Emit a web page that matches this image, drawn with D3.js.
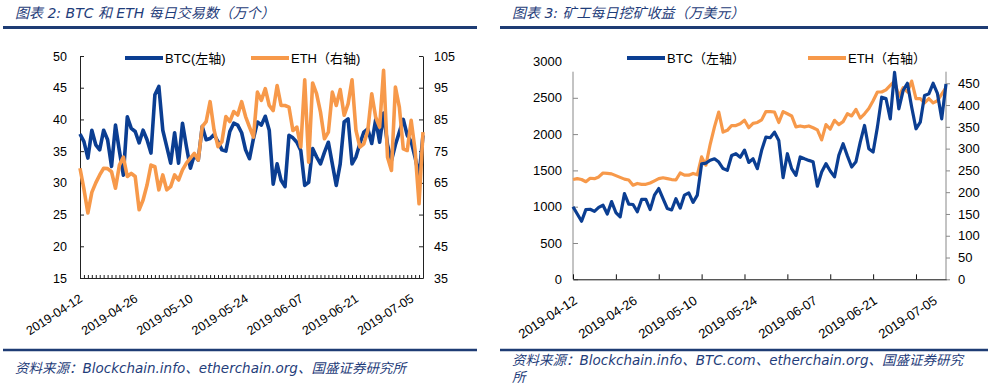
<!DOCTYPE html>
<html>
<head>
<meta charset="utf-8">
<script src="https://cdn.jsdelivr.net/npm/d3@7"></script>
<style>
body { margin: 0; background: #fff; }
text { font-family: "Liberation Sans", "Noto Sans CJK SC", sans-serif; fill: #000; }
.hd { font-family: "DejaVu Sans", "Noto Sans CJK SC", sans-serif; font-style: italic; fill: #1f3d7a; }
</style>
</head>
<body>
<div id="chart"></div>
<script>
// 88 daily categories, 2019-04-12 .. 2019-07-08
const dates = d3.timeDay.range(new Date(2019, 3, 12), new Date(2019, 6, 9));
const fmt = d3.timeFormat("%Y-%m-%d");

// chart 2 data: daily transactions (10k)
const btcTx = [37.7,36.5,33.9,38.3,36,35.2,38.3,36.8,32.6,39.1, 35,31.2,40.4,38.6,38.1,36.3,38.3,36.8,34.7,43.9,
  45.2,38.3,35.7,33.1,37.9,33.1,39.4,35.7,32.3,34.4, 33.6,38.9,36.8,37.0,37.6,36.5,35.2,35.0,38.1,39.4,
  39.1,37.9,35.2,33.8, 37,39.6,39.1,40.5,38.3,29.8, 33,30.4,29.4,37.5,37.1,36.4,35.1,29.6,30.1,35.4,
  34.1,33.0,34.8,36.4,33,29.6,33,39.6,40.1,33, 34.1,36.2,38,38.5,36.2,40,36.4,41,36,33.5,
  36,38,40,37.5,36.5,34,31,37.5];
const ethTx = [69.6,63,55.5,62,65,67.5,69.6,69.5,68.5,63.3, 70.6,73.1,67,68,67,56.5,59.6,64.3,70.6,70.1,
  62.8,67.5,62.8,63.8,67.5,65.9,69.1,71.2,72.8,74.3, 72.2,82.7,84.3,90.6,81.7,76.4,78,85.9,84.3,87.5,
  86.4,90.6,85.9,82.6, 79.4,93.6,91,94.7,89.4,87.8, 95.7,89.4,89.4,88.9,81.5,82.6,76.3,97.5,71.5,96.5,
  93.1,87.3,78.9,81,93.6,89.4,94.4,86.3,89.9,97.5, 81.5,76.3,77.3,81.5,93.1,85.7,82.6,100.5,73.1,68.9,
  95.2,88.9,75.7,75.2,84.7,75.2,58.4,81];

// chart 3 data: daily mining revenue (10k USD)
const btcRev = [1000,900,800,960,965,935,990,1020,900,1070, 920,860,1180,1035,1030,930,1100,1100,960,1160,
  1250,1110,975,955,1110,980,1160,1190,1060,1160, 1590,1600,1640,1660,1615,1525,1500,1705,1730,1680,
  1780,1610, 1660,1524,1776,1959,1950,2027,1913,1400, 1730,1524,1432,1685,1660,1638,1620,1282,1478,1593,
  1492,1410,1707,1867,1700,1547,1620,1890,2119,1799, 1753,2096,2508,2490,2210,2851,2348,2600,2700,2370,
  2073,2165,2531,2554,2700,2560,2210,2691];
const ethRev = [229,231,229,224,232,231,235,244,243,242, 238,234,230,228,216,220,218,218,221,226,
  231,233,231,229,228,244,239,239,243,240, 281,262,310,350,384,338,342,353,353,357,
  365,348, 358,360,366,385,385,384,360,385, 380,375,350,352,350,352,348,343,320,355,
  345,365,355,362,380,375,390,370,380,392, 410,430,430,435,445,455,420,440,430,455,
  415,415,405,415,405,410,425,440];

const txTicksL = d3.range(15, 51, 5);
const txTicksR = d3.range(35, 106, 10);
const revTicksL = d3.range(0, 3001, 500);
const revTicksR = d3.range(0, 451, 50);

const BLUE = "#0b3e92", ORANGE = "#f7994a", NAVY = "#1e3c74";

const svg = d3.select("#chart").append("svg")
    .attr("width", 995)
    .attr("height", 389);

function header(x0, x1, title, source) {
    svg.append("text").attr("class", "hd")
        .attr("x", x0 + 12).attr("y", 18)
        .style("font-size", "14px")
        .text(title);
    svg.append("line")
        .attr("x1", x0).attr("x2", x1).attr("y1", 27.5).attr("y2", 27.5)
        .style("stroke", NAVY).style("stroke-width", 3);
    svg.append("line")
        .attr("x1", x0).attr("x2", x1).attr("y1", 350).attr("y2", 350)
        .style("stroke", NAVY).style("stroke-width", 2.5);
    source.forEach((s, i) => {
        svg.append("text").attr("class", "hd")
            .attr("x", x0 + 12).attr("y", source.length > 1 ? 365 + i * 17 : 373)
            .style("font-size", "13.5px")
            .text(s);
    });
}

function legendItem(x, y, color, label) {
    svg.append("line")
        .attr("x1", x).attr("x2", x + 38).attr("y1", y).attr("y2", y)
        .style("stroke", color).style("stroke-width", 4);
    svg.append("text")
        .attr("x", x + 40).attr("y", y).attr("dy", "0.35em")
        .style("font-size", "13px")
        .text(label);
}

function xLabels(x, y0, dx, size) {
    svg.append("g").selectAll("text")
        .data(dates.filter((d, i) => i % 14 === 0))
        .enter().append("text")
        .attr("transform", d => "translate(" + (x(d) + dx) + "," + y0 + ") rotate(-33)")
        .attr("text-anchor", "end")
        .attr("dy", "0.35em")
        .style("font-size", size)
        .text(d => fmt(d));
}

// ---------- chart 2: transactions ----------
header(3, 477, "图表 2: BTC 和 ETH 每日交易数（万个）",
    ["资料来源：Blockchain.info、etherchain.org、国盛证券研究所"]);

let x1 = d3.scalePoint().domain(dates).range([80, 423]);
let y1L = d3.scaleLinear().domain([15, 50]).range([278, 56]);
let y1R = d3.scaleLinear().domain([35, 105]).range([278, 56]);

svg.append("g").attr("transform", "translate(80,0)")
    .call(d3.axisLeft(y1L).tickValues(txTicksL).tickSizeInner(-4).tickSizeOuter(0).tickPadding(13))
    .attr("font-family", null).attr("font-size", "12.5px").attr("color", "#222");
svg.append("g").attr("transform", "translate(423,0)")
    .call(d3.axisRight(y1R).tickValues(txTicksR).tickSizeInner(-4).tickSizeOuter(0).tickPadding(11))
    .attr("font-family", null).attr("font-size", "12.5px").attr("color", "#222");
svg.append("g").attr("transform", "translate(0,278)")
    .call(d3.axisBottom(x1).tickValues(dates).tickSizeInner(-3).tickSizeOuter(0).tickFormat(""))
    .attr("color", "#222");
xLabels(x1, 297, 1, "12.5px");

svg.append("path").datum(btcTx)
    .attr("d", d3.line().x((d, i) => x1(dates[i])).y(d => y1L(d)))
    .style("fill", "none").style("stroke", BLUE).style("stroke-width", 3.6).style("stroke-linejoin", "round");
svg.append("path").datum(ethTx)
    .attr("d", d3.line().x((d, i) => x1(dates[i])).y(d => y1R(d)))
    .style("fill", "none").style("stroke", ORANGE).style("stroke-width", 3.6).style("stroke-linejoin", "round");

legendItem(125, 58, BLUE, "BTC(左轴)");
legendItem(251, 58, ORANGE, "ETH（右轴)");

// ---------- chart 3: mining revenue ----------
header(500, 988, "图表 3: 矿工每日挖矿收益（万美元）",
    ["资料来源：Blockchain.info、BTC.com、etherchain.org、国盛证券研究", "所"]);

const top2 = 71.7;
let x2 = d3.scalePoint().domain(dates).range([573, 946]);
let y2L = d3.scaleLinear().domain([0, 3000]).range([279.3, 61.5]);
let y2R = d3.scaleLinear().domain([0, 500]).range([279.3, 61.5]);

let gl = svg.append("g").attr("transform", "translate(573,0)")
    .call(d3.axisLeft(y2L).tickValues(revTicksL).tickFormat(d3.format("d"))
        .tickSizeInner(-5).tickSizeOuter(0).tickPadding(11))
    .attr("font-family", null).attr("font-size", "13px").attr("color", "#888");
gl.select(".domain").remove();
gl.selectAll(".tick line").filter(d => d === 3000).remove();
gl.selectAll(".tick text").style("fill", "#000");
svg.append("line").attr("x1", 573).attr("x2", 573).attr("y1", top2).attr("y2", 279.3)
    .style("stroke", "#888");

let gr = svg.append("g").attr("transform", "translate(946,0)")
    .call(d3.axisRight(y2R).tickValues(revTicksR).tickSizeInner(4).tickSizeOuter(0).tickPadding(8))
    .attr("font-family", null).attr("font-size", "13px").attr("color", "#888");
gr.select(".domain").remove();
gr.selectAll(".tick text").style("fill", "#000");
svg.append("line").attr("x1", 946).attr("x2", 946).attr("y1", top2).attr("y2", 279.3)
    .style("stroke", "#888");

svg.append("g").attr("transform", "translate(0,279.3)")
    .call(d3.axisBottom(x2).tickValues(dates.filter((d, i) => i % 10 === 0)).tickSizeInner(-5).tickSizeOuter(0).tickFormat(""))
    .attr("color", "#111");
xLabels(x2, 299, 2.5, "13px");

svg.append("path").datum(ethRev)
    .attr("d", d3.line().x((d, i) => x2(dates[i])).y(d => y2R(d)))
    .style("fill", "none").style("stroke", ORANGE).style("stroke-width", 3.2).style("stroke-linejoin", "round");
svg.append("path").datum(btcRev)
    .attr("d", d3.line().x((d, i) => x2(dates[i])).y(d => y2L(d)))
    .style("fill", "none").style("stroke", BLUE).style("stroke-width", 3.2).style("stroke-linejoin", "round");

legendItem(627, 58, BLUE, "BTC（左轴）");
legendItem(808, 58, ORANGE, "ETH（右轴）");
</script>
</body>
</html>
